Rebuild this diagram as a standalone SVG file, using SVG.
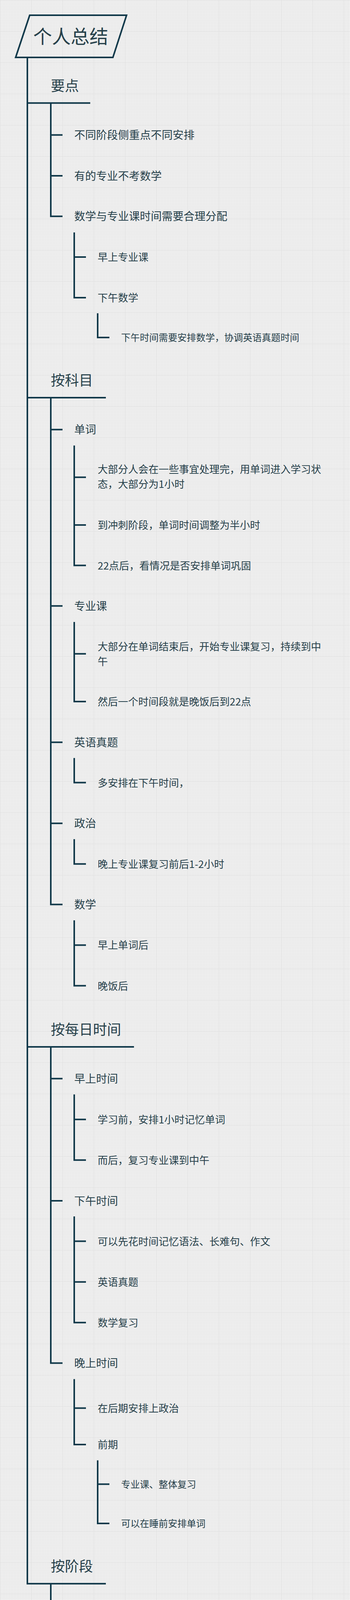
<svg xmlns="http://www.w3.org/2000/svg" width="896" height="5860" viewBox="0 0 896 5860">
<defs>
<pattern id="minor" width="4" height="4" patternUnits="userSpaceOnUse">
<rect width="4" height="4" fill="#f3f3f3"/>
<path d="M0 0.5H4M0.5 0V4" stroke="#e4e4e4" stroke-width="1" fill="none"/>
</pattern>
<pattern id="major" width="80" height="80" patternUnits="userSpaceOnUse">
<path d="M0 0.5H80M0.5 0V80" stroke="#d9d9d9" stroke-width="1" fill="none"/>
</pattern>
</defs>
<style>
text{font-family:"Noto Sans CJK SC","Noto Sans",sans-serif;fill:#26404a}
.t0{font-size:48px}
.t1{font-size:36px}
.t2{font-size:28px}
.t3{font-size:26px}
.t4{font-size:24px}
.conn path{fill:none;stroke:#11394a;stroke-width:4;stroke-linecap:butt;stroke-linejoin:miter}
.box{fill:none;stroke:#11394a;stroke-width:4;stroke-linejoin:miter}
</style>
<rect width="896" height="5860" fill="url(#minor)"/>
<rect width="896" height="5860" fill="url(#major)"/>

<g id="connectors" class="conn">
<path d="M70 147V4054.3H271"/>
<path d="M70 263.7H231"/>
<path d="M70 1018H271"/>
<path d="M70 2680H343"/>
<path d="M130 263.7V553.8H160M130 345.6H160M130 450H160"/>
<path d="M190 595V762H220M190 658H220"/>
<path d="M250 802V864H280"/>
<path d="M130 1018V2315.5H160M130 1099.8H160M130 1551.3H160M130 1900.3H160M130 2107.7H160"/>
<path d="M190 1140.4V1447.6H220M190 1221.8H220M190 1343.9H220"/>
<path d="M190 1592.3V1795.9H220M190 1673.8H220"/>
<path d="M190 1940.5V2003.6H220"/>
<path d="M190 2148.3V2211.8H220"/>
<path d="M190 2356V2523.6H220M190 2419.5H220"/>
<path d="M130 2680V3489.5H160M130 2761.3H160M130 3073.9H160"/>
<path d="M190 2801.8V2969.8H220M190 2865.7H220"/>
<path d="M190 3114V3385.8H220M190 3177.6H220M190 3281.7H220"/>
<path d="M190 3530.4V3698H220M190 3604.7H220"/>
<path d="M250 3738.5V3900H280M250 3799.4H280"/>
<path d="M130 4054.3V5367.9H160M130 4135.8H160M130 4951.5H160"/>
<path d="M190 4176.3V4547.5H220M190 4239.4H220M190 4343.9H220"/>
<path d="M250 4384.5V4445.7H280"/>
<path d="M250 4588.4V4849.4H280M250 4650H280M250 4750H280"/>
<path d="M190 4992.5V5263.4H220M190 5055.6H220M190 5159.7H220"/>
<path d="M190 5408.3V5779.3H220M190 5471.7H220M190 5575.7H220"/>
<path d="M250 5616.7V5677.3H280"/>
</g>

<g id="root">
<polygon class="box" points="76,39 324,39 289,147 40,147"/>
<text class="t0" x="85" y="111">个人总结</text>
</g>

<g id="n-yaodian"><text class="t1" x="130" y="232.7">要点</text></g>
<g id="n-yd1"><text class="t2" x="190" y="356.2">不同阶段侧重点不同安排</text></g>
<g id="n-yd2"><text class="t2" x="190" y="460.6">有的专业不考数学</text></g>
<g id="n-yd3"><text class="t2" x="190" y="564.4">数学与专业课时间需要合理分配</text></g>
<g id="n-yd3a"><text class="t3" x="250" y="667.9">早上专业课</text></g>
<g id="n-yd3b"><text class="t3" x="250" y="771.9">下午数学</text></g>
<g id="n-yd3b1"><text class="t4" x="310" y="873.1">下午时间需要安排数学，协调英语真题时间</text></g>

<g id="n-kemu"><text class="t1" x="130" y="987">按科目</text></g>
<g id="n-danci"><text class="t2" x="190" y="1110.4">单词</text></g>
<g id="n-danci1"><text class="t3" x="250" y="1211">大部分人会在一些事宜处理完，用单词进入学习状<tspan x="250" y="1249">态，大部分为1小时</tspan></text></g>
<g id="n-danci2"><text class="t3" x="250" y="1353.8">到冲刺阶段，单词时间调整为半小时</text></g>
<g id="n-danci3"><text class="t3" x="250" y="1457.5">22点后，看情况是否安排单词巩固</text></g>
<g id="n-zhuanye"><text class="t2" x="190" y="1561.9">专业课</text></g>
<g id="n-zhuanye1"><text class="t3" x="250" y="1664.7">大部分在单词结束后，开始专业课复习，持续到中<tspan x="250" y="1702.7">午</tspan></text></g>
<g id="n-zhuanye2"><text class="t3" x="250" y="1805.8">然后一个时间段就是晚饭后到22点</text></g>
<g id="n-yingyu"><text class="t2" x="190" y="1910.9">英语真题</text></g>
<g id="n-yingyu1"><text class="t3" x="250" y="2013.5">多安排在下午时间，</text></g>
<g id="n-zhengzhi"><text class="t2" x="190" y="2118.3">政治</text></g>
<g id="n-zhengzhi1"><text class="t3" x="250" y="2221.7">晚上专业课复习前后1-2小时</text></g>
<g id="n-shuxue"><text class="t2" x="190" y="2326.1">数学</text></g>
<g id="n-shuxue1"><text class="t3" x="250" y="2429.4">早上单词后</text></g>
<g id="n-shuxue2"><text class="t3" x="250" y="2533.5">晚饭后</text></g>

<g id="n-meiri"><text class="t1" x="130" y="2649">按每日时间</text></g>
<g id="n-zao"><text class="t2" x="190" y="2771.9">早上时间</text></g>
<g id="n-zao1"><text class="t3" x="250" y="2875.6">学习前，安排1小时记忆单词</text></g>
<g id="n-zao2"><text class="t3" x="250" y="2979.7">而后，复习专业课到中午</text></g>
<g id="n-xiawu"><text class="t2" x="190" y="3084.5">下午时间</text></g>
<g id="n-xiawu1"><text class="t3" x="250" y="3187.5">可以先花时间记忆语法、长难句、作文</text></g>
<g id="n-xiawu2"><text class="t3" x="250" y="3291.6">英语真题</text></g>
<g id="n-xiawu3"><text class="t3" x="250" y="3395.7">数学复习</text></g>
<g id="n-wan"><text class="t2" x="190" y="3500.1">晚上时间</text></g>
<g id="n-wan1"><text class="t3" x="250" y="3614.6">在后期安排上政治</text></g>
<g id="n-wan2"><text class="t3" x="250" y="3707.9">前期</text></g>
<g id="n-wan2a"><text class="t4" x="310" y="3808.5">专业课、整体复习</text></g>
<g id="n-wan2b"><text class="t4" x="310" y="3909.1">可以在睡前安排单词</text></g>

<g id="n-jieduan"><text class="t1" x="130" y="4023">按阶段</text></g>
<g id="n-shujiaqian"><text class="t2" x="190" y="4146.4">暑假前</text></g>
<g id="n-sjq1"><text class="t3" x="250" y="4249.3">时间较少，有课程存在，6月优先复习期末考试</text></g>
<g id="n-sjq2"><text class="t3" x="250" y="4353.8">英语单词为侧重点</text></g>
<g id="n-sjq2a"><text class="t4" x="310" y="4454.8">语法、长难句</text></g>
<g id="n-sjq3"><text class="t3" x="250" y="4557.4">数学、专业课争取一轮复习</text></g>
<g id="n-sjq3a"><text class="t4" x="310" y="4659.1">视频</text></g>
<g id="n-sjq3b"><text class="t4" x="310" y="4759.1">教材</text></g>
<g id="n-sjq3c"><text class="t4" x="310" y="4858.5">例题，2-n遍，掌握牢固</text></g>
<g id="n-shujia"><text class="t2" x="190" y="4962.1">暑假</text></g>
<g id="n-sj1"><text class="t3" x="250" y="5065.5">二轮复习开始</text></g>
<g id="n-sj2"><text class="t3" x="250" y="5169.6">习题册</text></g>
<g id="n-sj3"><text class="t3" x="250" y="5273.3">英语侧重阅读理解</text></g>
<g id="n-shujiahou"><text class="t2" x="190" y="5378.5">暑假后，安排政治</text></g>
<g id="n-sjh1"><text class="t3" x="250" y="5481.6">11月，政治出新资料，需要背诵，做模拟题</text></g>
<g id="n-sjh2"><text class="t3" x="250" y="5585.6">主要是刷题，巩固知识点</text></g>
<g id="n-sjh2a"><text class="t4" x="310" y="5686.4">做模拟题</text></g>
<g id="n-sjh3"><text class="t3" x="250" y="5789.2">英语开始准备作文模版</text></g>
</svg>
